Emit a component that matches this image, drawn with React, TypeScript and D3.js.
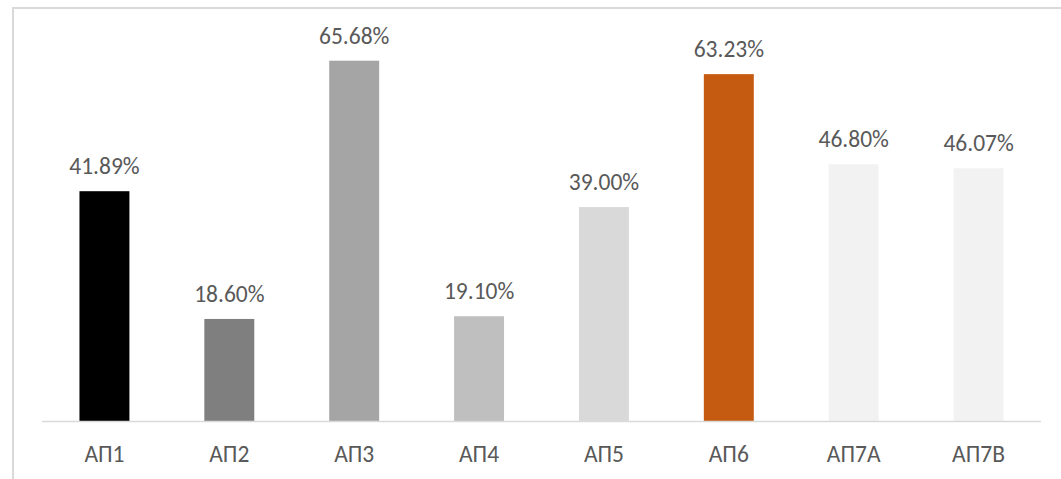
import React, { useRef, useEffect } from "react";
import * as d3 from "d3";

const categories = ["АП1", "АП2", "АП3", "АП4", "АП5", "АП6", "АП7А", "АП7В"];
const values = [41.89, 18.6, 65.68, 19.1, 39.0, 63.23, 46.8, 46.07];
const colors = ["#000000", "#7f7f7f", "#a5a5a5", "#bfbfbf", "#d9d9d9", "#c55a11", "#f2f2f2", "#f2f2f2"];

const App = () => {
  const svgRef = useRef<SVGSVGElement>(null);

  useEffect(() => {
    const width = 1061;
    const height = 479;
    const margin = { top: 37, right: 20, bottom: 58, left: 42 };
    const font = "Calibri, Carlito, 'Open Sans', sans-serif";

    const svg = d3.select(svgRef.current).attr("width", width).attr("height", height);
    svg.selectAll("*").remove();

    // chart border (only top and left edges are in view)
    svg
      .append("rect")
      .attr("x", 13)
      .attr("y", 7)
      .attr("width", width - 13)
      .attr("height", 2)
      .attr("fill", "#d9d9d9");
    svg
      .append("rect")
      .attr("x", 12)
      .attr("y", 7)
      .attr("width", 2)
      .attr("height", height - 7)
      .attr("fill", "#d9d9d9");

    const xScale = d3
      .scaleBand()
      .domain(categories)
      .range([margin.left, width - margin.right])
      .paddingInner(0.6)
      .paddingOuter(0.3);

    const yScale = d3
      .scaleLinear()
      .domain([0, 70])
      .range([height - margin.bottom, margin.top]);

    const data = categories.map((c, i) => ({ cat: c, value: values[i], color: colors[i] }));

    svg
      .selectAll(".bar")
      .data(data)
      .enter()
      .append("rect")
      .attr("class", "bar")
      .attr("x", (d) => xScale(d.cat))
      .attr("y", (d) => yScale(d.value))
      .attr("width", xScale.bandwidth())
      .attr("height", (d) => yScale(0) - yScale(d.value))
      .attr("fill", (d) => d.color);

    // baseline
    svg
      .append("line")
      .attr("x1", margin.left)
      .attr("x2", width - margin.right)
      .attr("y1", yScale(0) + 0.5)
      .attr("y2", yScale(0) + 0.5)
      .attr("stroke", "#d9d9d9")
      .attr("stroke-width", 1.5);

    // value labels
    svg
      .selectAll(".val")
      .data(data)
      .enter()
      .append("text")
      .attr("x", (d) => xScale(d.cat) + xScale.bandwidth() / 2)
      .attr("y", (d) => yScale(d.value) - 17)
      .attr("text-anchor", "middle")
      .attr("font-family", font)
      .attr("font-size", 23.5)
      .attr("fill", "#595959")
      .text((d) => d.value.toFixed(2) + "%");

    // category labels
    svg
      .selectAll(".cat")
      .data(data)
      .enter()
      .append("text")
      .attr("x", (d) => xScale(d.cat) + xScale.bandwidth() / 2)
      .attr("y", 462)
      .attr("text-anchor", "middle")
      .attr("font-family", font)
      .attr("font-size", 23.5)
      .attr("fill", "#595959")
      .text((d) => d.cat);
  }, []);

  return <svg ref={svgRef} style={{ position: "absolute", left: 0, top: 0 }}></svg>;
};

export default App;
